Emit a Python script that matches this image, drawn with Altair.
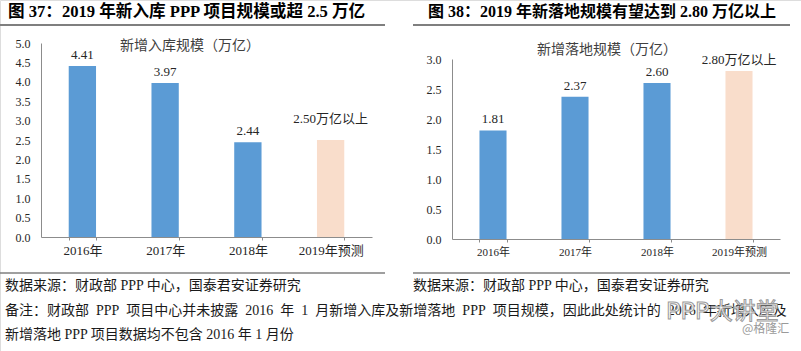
import altair as alt
import pandas as pd

# ---------------- data ----------------
years = ["2016年", "2017年", "2018年", "2019年预测"]
kinds = ["实际", "实际", "实际", "预测"]
ruku_values = [4.41, 3.97, 2.44, 2.50]
ruku_labels = ["4.41", "3.97", "2.44", "2.50万亿以上"]
luodi_values = [1.81, 2.37, 2.60, 2.80]
luodi_labels = ["1.81", "2.37", "2.60", "2.80万亿以上"]
ruku_ticks = [0, 0.5, 1.0, 1.5, 2.0, 2.5, 3.0, 3.5, 4.0, 4.5, 5.0]
luodi_ticks = [0, 0.5, 1.0, 1.5, 2.0, 2.5, 3.0]

title_left = "图 37：2019 年新入库 PPP 项目规模或超 2.5 万亿"
title_right = "图 38：2019 年新落地规模有望达到 2.80 万亿以上"
sub_left = "新增入库规模（万亿）"
sub_right = "新增落地规模（万亿）"
source_text = "数据来源：财政部 PPP 中心，国泰君安证券研究"
# justified line: en-spaces stand in for the stretched spaces of the original
note_line1 = "备注：财政部\u2002PPP\u2002项目中心并未披露\u20022016\u2002年\u20021\u2002月新增入库及新增落地\u2002PPP\u2002项目规模，因此此处统计的\u20022016\u2002年新增入库及"
note_line2 = "新增落地 PPP 项目数据均不包含 2016 年 1 月份"
watermark1 = "PPP大讲堂"
watermark2 = "@格隆汇"

# ---------------- style ----------------
FONT = "Liberation Serif, Noto Sans CJK SC"
BLUE = "#5B9BD5"
PEACH = "#F9DDCB"
AXIS = "#8C8C8C"
TXT = "#262626"

df1 = pd.DataFrame({"year": years, "value": ruku_values, "label": ruku_labels, "kind": kinds})
df2 = pd.DataFrame({"year": years, "value": luodi_values, "label": luodi_labels, "kind": kinds})

color = alt.Color("kind:N", scale=alt.Scale(domain=["实际", "预测"], range=[BLUE, PEACH]), legend=None)


def panel(df, xr, yr, ymax, ticks, xoff, yoff, xfs, forecast_dy):
    x = alt.X(
        "year:N", sort=years,
        scale=alt.Scale(range=xr, paddingInner=0.67, paddingOuter=0.335),
        axis=alt.Axis(title=None, orient="bottom", offset=yoff, labelAngle=0,
                      tickBand="extent", ticks=True, tickSize=3, tickColor=AXIS,
                      domainColor=AXIS, labelFont=FONT, labelFontSize=xfs,
                      labelColor=TXT, labelPadding=4, grid=False),
    )
    y = alt.Y(
        "value:Q",
        scale=alt.Scale(domain=[0, ymax], range=yr, nice=False, zero=True),
        axis=alt.Axis(title=None, orient="left", offset=xoff, values=ticks, format=".1f",
                      ticks=False, domainColor=AXIS, labelFont=FONT, labelFontSize=12,
                      labelColor=TXT, labelPadding=11, grid=False),
    )
    bars = alt.Chart(df).mark_bar().encode(x=x, y=y, color=color)
    lab = alt.Chart(df).transform_filter("datum.kind == '实际'").mark_text(
        baseline="bottom", dy=-4, font=FONT, fontSize=13, color=TXT
    ).encode(x=x, y=y, text="label:N")
    labf = alt.Chart(df).transform_filter("datum.kind == '预测'").mark_text(
        baseline="bottom", dy=forecast_dy, font=FONT, fontSize=13, color=TXT
    ).encode(x=x, y=y, text="label:N")
    return alt.layer(bars, lab, labf)


left = panel(df1, [41, 372], [237, 43], 5, ruku_ticks, -41, -114, 13, -14)
right = panel(df2, [452, 780], [239, 59], 3, luodi_ticks, -452, -112, 11, -4)


def text(t, x, y, size, color=TXT, weight="normal", align="left", font=FONT, stroke=None):
    kw = dict(align=align, baseline="middle", fontSize=size, fontWeight=weight, color=color, font=font)
    if stroke:
        kw.update(stroke=stroke, strokeWidth=1)
    return alt.Chart(pd.DataFrame({"t": [t]})).mark_text(**kw).encode(
        text="t:N", x=alt.value(x), y=alt.value(y)
    )


def rule(x1, x2, y, w, c):
    return alt.Chart(pd.DataFrame({"r": [0]})).mark_rule(strokeWidth=w, color=c).encode(
        x=alt.value(x1), x2=alt.value(x2), y=alt.value(y)
    )


deco = [
    text(title_left, 8, 12, 16.6, "#000000", "bold"),
    text(title_right, 428, 12, 16, "#000000", "bold"),
    rule(0, 385, 25, 2, "#7F7F7F"),
    rule(413, 790, 25, 2, "#7F7F7F"),
    text(sub_left, 190, 46, 14, "#404040", align="center"),
    text(sub_right, 607, 50, 14, "#404040", align="center"),
    rule(0, 385, 273, 1.5, "#7F7F7F"),
    rule(413, 790, 273, 1.5, "#7F7F7F"),
    text(source_text, 5, 286, 14, "#1a1a1a"),
    text(source_text, 413, 286, 14, "#1a1a1a"),
    text(note_line1, 5, 311, 14, "#1a1a1a"),
    text(note_line2, 5, 335, 14, "#1a1a1a"),
    text(watermark1, 666, 312, 23, "#ffffff", font="Noto Sans CJK SC", stroke="#9a9a9a"),
    text(watermark2, 742, 329, 12, "#9A9A9A", font="Noto Sans CJK SC"),
]

chart = alt.layer(left, right, *deco).resolve_scale(
    x="independent", y="independent"
).properties(
    width=801, height=351, padding=0, autosize=alt.AutoSizeParams(type="none")
).configure_view(stroke=None).configure(background="white")

chart.save("out.html", embed_options={"renderer": "svg", "actions": False})
